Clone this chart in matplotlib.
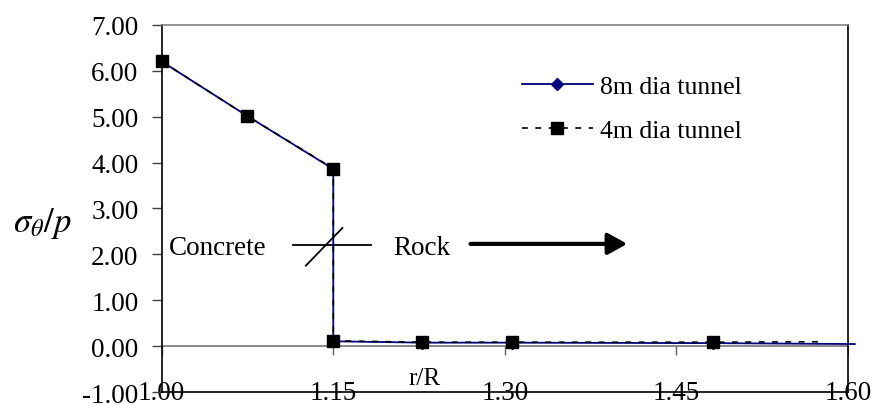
import matplotlib
matplotlib.use("Agg")
import matplotlib.pyplot as plt

# ---- data ----
r_8m = [1.00, 1.075, 1.15, 1.15, 1.228, 1.306, 1.482, 1.606]
s_8m = [6.20, 5.01, 3.86, 0.11, 0.08, 0.08, 0.07, 0.05]
r_4m = [1.00, 1.075, 1.15, 1.15, 1.228, 1.306, 1.482, 1.578]
s_4m = [6.20, 5.01, 3.87, 0.12, 0.09, 0.09, 0.09, 0.10]
label_8m = "8m dia tunnel"
label_4m = "4m dia tunnel"
xticks = [1.00, 1.15, 1.30, 1.45, 1.60]
yticks = [-1, 0, 1, 2, 3, 4, 5, 6, 7]

# annotation geometry (data coords)
concrete_pos = (1.0064, 2.16)
rock_pos = (1.2022, 2.16)
iface_h = ([1.115, 1.183], [2.21, 2.21])
iface_d = ([1.126, 1.158], [1.756, 2.577])
arrow_from = (1.270, 2.23)
arrow_to = (1.407, 2.23)

plt.rcParams['font.family'] = ['Liberation Serif', 'DejaVu Serif']
plt.rcParams['mathtext.fontset'] = 'stix'

fig = plt.figure(figsize=(8.76, 4.06), dpi=100)
ax = fig.add_axes([0.1846, 0.0313, 0.7834, 0.9054])

ax.set_xlim(1.0, 1.6)
ax.set_ylim(-1, 7)

# y=0 axis line with tick marks
ax.axhline(0, color='#808080', lw=1.3, zorder=1)
ax.plot(xticks, [0] * len(xticks), linestyle='none', marker=3, markersize=6.5,
        markeredgewidth=1.0, color='#606060', zorder=1)

navy = '#000080'
ax.plot(r_8m, s_8m, color=navy, lw=1.3, marker='D', markersize=6,
        markevery=list(range(len(r_8m) - 1)), label=label_8m, zorder=3,
        clip_on=False)
ax.plot(r_4m, s_4m, color='black', lw=1.2, linestyle=(0, (3.5, 4.5)),
        marker='s', markersize=8.3, markevery=list(range(len(r_4m) - 1)),
        label=label_4m, zorder=4, clip_on=False)

# texts & interface symbol
ax.text(*concrete_pos, "Concrete", fontsize=19.5, va='center', ha='left')
ax.text(*rock_pos, "Rock", fontsize=19.5, va='center', ha='left')
ax.plot(*iface_h, color='black', lw=1.3)
ax.plot(*iface_d, color='black', lw=1.3)
ax.annotate('', xy=arrow_to, xytext=arrow_from,
            arrowprops=dict(arrowstyle='-|>,head_length=0.65,head_width=0.36',
                            lw=3, color='black', mutation_scale=18,
                            shrinkA=0, shrinkB=0))

# ticks
ax.set_xticks(xticks)
ax.set_xticklabels([f"{v:.2f}" for v in xticks])
ax.set_yticks(yticks)
ax.set_yticklabels([f"{v:.2f}" for v in yticks])
ax.tick_params(axis='x', length=0, pad=-8.5, labelsize=19.5)
ax.tick_params(axis='y', length=7.2, width=1.0, pad=9.6, labelsize=19.5,
               color='#404040')

# spines
for s in ['left', 'bottom', 'right']:
    ax.spines[s].set_color('black')
    ax.spines[s].set_linewidth(1.2)
ax.spines['top'].set_color('#808080')
ax.spines['top'].set_linewidth(1.2)

# labels
ax.set_xlabel("r/R", fontsize=18)
ax.xaxis.set_label_coords((425 - 161.7) / 686.3, (393.3 - 379.5) / 367.6)
ax.xaxis.label.set_va('center')
ax.set_ylabel(r'$\sigma_\theta/p$', fontsize=25, rotation=0)
ax.yaxis.set_label_coords((42 - 161.7) / 686.3, (393.3 - 224) / 367.6)
ax.yaxis.label.set_va('center')
ax.yaxis.label.set_ha('center')

ax.legend(loc='upper left', bbox_to_anchor=(0.5245, 0.864), frameon=False,
          fontsize=18.5, handlelength=2.77, handletextpad=0.27,
          labelspacing=0.83, borderpad=0, borderaxespad=0, numpoints=1)

fig.savefig("out.png", dpi=100)
